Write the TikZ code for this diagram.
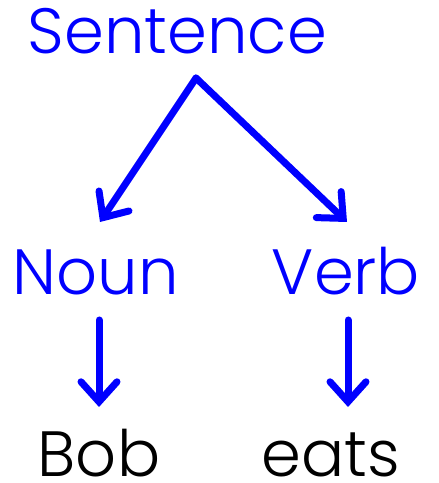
\documentclass[tikz,border=0pt]{standalone}
\usepackage{fontspec}
\setmainfont{Poppins}[UprightFont=* Light]
\usetikzlibrary{arrows.meta}
\tikzset{
  word/.style={inner sep=0pt, anchor=base, font=\fontsize{64}{70}\selectfont},
  blueword/.style={word, text=blue},
  blackword/.style={word, text=black, text depth=0pt},
  arr/.style={draw=blue, line width=7pt, line cap=round,
    -{Straight Barb[length=20pt,width=36pt,line cap=round,line join=miter]}}
}
\begin{document}
\begin{tikzpicture}[x=1pt,y=1pt]
\useasboundingbox (0,0) rectangle (439,483);
\node[blueword] (sentence) at (177.5,429) {Sentence};
\node[blueword] (noun) at (96,188) {Noun};
\node[blueword] (verb) at (346,188) {Verb};
\node[blackword] (bob) at (99,6) {Bob};
\node[blackword] (eats) at (330.5,6) {eats};
\coordinate (fork) at (196,405);
\coordinate (nountop) at (100,261);
\coordinate (verbtop) at (347,261);
\coordinate (nounbot) at (99,163);
\coordinate (bobtop) at (99,76);
\coordinate (verbbot) at (348,163);
\coordinate (eatstop) at (348,76);
\draw[arr] (fork) -- (nountop);
\draw[arr] (fork) -- (verbtop);
\draw[arr] (nounbot) -- (bobtop);
\draw[arr] (verbbot) -- (eatstop);
\end{tikzpicture}
\end{document}
